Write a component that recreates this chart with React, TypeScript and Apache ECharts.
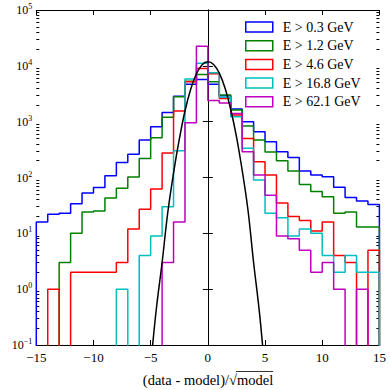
import React, { useEffect, useRef } from "react";
import * as echarts from "echarts";

// ---------- data ----------
const binEdges = [-15, -14, -13, -12, -11, -10, -9, -8, -7, -6, -5, -4, -3, -2, -1, 0, 1, 2, 3, 4, 5, 6, 7, 8, 9, 10, 11, 12, 13, 14, 15];

const seriesNames = ["E > 0.3 GeV", "E > 1.2 GeV", "E > 4.6 GeV", "E > 16.8 GeV", "E > 62.1 GeV"];
const seriesColors = ["#0000ff", "#008000", "#ff0000", "#00bfbf", "#bf00bf"];

const countsE03 = [16, 22, 23, 34, 53, 66, 107, 185, 260, 470, 813, 1460, 2850, 4700, 5700, 4700, 2900, 1690, 1000, 660, 438, 290, 228, 131, 111, 103, 67, 44, 38, 33];
const countsE12 = [0, 0, 3, 10, 24, 25, 43, 64, 102, 220, 516, 1200, 2800, 5300, 7000, 5200, 3000, 1620, 840, 470, 287, 200, 131, 75, 56, 45, 23, 24, 13, 13];
const countsE46 = [0, 1, 0, 2, 2, 2, 2, 3, 12, 27, 62, 275, 1550, 5200, 9000, 7200, 2600, 1320, 500, 192, 111, 35, 20, 17, 11, 16, 4, 3, 0, 5];
const countsE168 = [0, 0, 0, 0, 0, 0, 0, 1, 0, 4, 9, 30, 300, 5800, 11100, 7500, 2750, 1230, 333, 90, 23, 19, 9, 12, 10, 4, 2, 4, 2, 2];
const countsE621 = [0, 0, 0, 0, 0, 0, 0, 0, 0, 0, 0, 3, 16, 960, 22500, 2400, 2150, 1400, 290, 111, 48, 9, 8, 5, 2, 3, 1, 0, 1, 0];

const modelX = [-4.9, -4.5, -4, -3.5, -3, -2.5, -2, -1.5, -1, -0.5, 0, 0.5, 1, 1.5, 2, 2.5, 3, 3.5, 4, 4.5, 4.85];
const modelY = [0.07, 0.45, 3.0, 24, 120, 480, 1550, 3800, 7200, 10500, 11800, 10600, 7400, 4000, 1650, 540, 135, 27, 3.0, 0.4, 0.07];

const yMajor = [0.1, 1, 10, 100, 1000, 10000, 100000];
const yMinorMultipliers = [2, 3, 4, 5, 6, 7, 8, 9];

const axisTitle = "(data - model)/\u221Amodel";
const FONT = "Liberation Serif";

function stepData(vals: number[]) {
  const floor = 1e-3;
  const pts: number[][] = [[binEdges[0], floor]];
  vals.forEach((v, i) => pts.push([binEdges[i], v > 0 ? v : floor]));
  pts.push([binEdges[binEdges.length - 1], floor]);
  return pts;
}

function minus(s: string) {
  return s.replace("-", "\u2212");
}

export default function App() {
  const ref = useRef<HTMLDivElement>(null);
  useEffect(() => {
    if (!ref.current) return;
    const chart = echarts.init(ref.current, null, { renderer: "svg" });

    const yMinor: number[] = [];
    for (let k = 0; k < yMajor.length - 1; k++) {
      yMinorMultipliers.forEach((m) => yMinor.push(+(m * yMajor[k]).toPrecision(3)));
    }

    const allCounts = [countsE03, countsE12, countsE46, countsE168, countsE621];

    // measure axis title for the overline
    const cv = document.createElement("canvas");
    const ctx = cv.getContext("2d")!;
    const fs = 14.5;
    ctx.font = `${fs}px "${FONT}"`;
    const wFull = ctx.measureText(axisTitle).width;
    const wModel = ctx.measureText("model").width;
    const cx = 208;
    const titleY = 380;
    const right = cx + wFull / 2;
    const olStart = right - wModel - 1;

    const yBase = {
      type: "log",
      logBase: 10,
      min: 0.1,
      max: 100000,
      splitLine: { show: false },
      axisLine: { show: true, lineStyle: { color: "#000", width: 1 } },
    };

    const legendFs = 14;

    const option: any = {
      animation: false,
      backgroundColor: "#fff",
      grid: { left: 36.3, right: 10.6, top: 10, bottom: 45 },
      legend: {
        orient: "vertical",
        left: 245,
        top: 20,
        padding: 0,
        itemWidth: 27,
        itemHeight: 10,
        itemGap: 4.7,
        icon: "rect",
        textStyle: { fontFamily: FONT, fontSize: legendFs, color: "#000", padding: [0, 0, 0, 5] },
        data: seriesNames.map((n, i) => ({
          name: n,
          itemStyle: { color: "rgba(0,0,0,0)", borderColor: seriesColors[i], borderWidth: 1.5 },
        })),
      },
      xAxis: [
        {
          type: "value",
          min: -15,
          max: 15,
          interval: 5,
          position: "bottom",
          splitLine: { show: false },
          axisLine: { show: true, onZero: false, lineStyle: { color: "#000", width: 1 } },
          axisTick: { inside: true, length: 5, lineStyle: { color: "#000" } },
          axisLabel: {
            margin: 6,
            fontFamily: FONT,
            fontSize: 13,
            color: "#000",
            formatter: (v: number) => minus(String(v)),
          },
        },
        {
          type: "value",
          min: -15,
          max: 15,
          interval: 5,
          position: "top",
          splitLine: { show: false },
          axisLine: { show: true, onZero: false, lineStyle: { color: "#000", width: 1 } },
          axisTick: { inside: true, length: 5, lineStyle: { color: "#000" } },
          axisLabel: { show: false },
        },
      ],
      yAxis: [
        {
          ...yBase,
          position: "left",
          axisTick: { inside: true, length: 5, lineStyle: { color: "#000" }, customValues: yMajor },
          axisLabel: {
            customValues: yMajor,
            margin: 4,
            formatter: (v: number) => {
              const e = Math.round(Math.log10(v));
              return `{b|10}{s|${minus(String(e))}}`;
            },
            rich: {
              b: { fontFamily: FONT, fontSize: 12, color: "#000" },
              s: { fontFamily: FONT, fontSize: 8, color: "#000", padding: [0, 0, 7, 0] },
            },
          },
        },
        {
          ...yBase,
          position: "right",
          axisTick: { inside: true, length: 5, lineStyle: { color: "#000" }, customValues: yMajor },
          axisLabel: { show: false },
        },
        {
          ...yBase,
          position: "left",
          axisLine: { show: false },
          axisTick: { inside: true, length: 3, lineStyle: { color: "#000" }, customValues: yMinor },
          axisLabel: { show: false },
        },
        {
          ...yBase,
          position: "right",
          axisLine: { show: false },
          axisTick: { inside: true, length: 3, lineStyle: { color: "#000" }, customValues: yMinor },
          axisLabel: { show: false },
        },
      ],
      series: [
        ...allCounts.map((vals, i) => ({
          name: seriesNames[i],
          type: "line",
          step: "end",
          xAxisIndex: 0,
          yAxisIndex: 0,
          symbol: "none",
          clip: true,
          color: seriesColors[i],
          lineStyle: { color: seriesColors[i], width: 1.5 },
          data: stepData(vals),
          z: 2 + i,
        })),
        {
          name: "model",
          type: "line",
          xAxisIndex: 0,
          yAxisIndex: 0,
          symbol: "none",
          smooth: 0.4,
          clip: true,
          lineStyle: { color: "#000", width: 1.5 },
          data: modelX.map((x, i) => [x, modelY[i]]),
          z: 10,
        },
      ],
      graphic: [
        {
          type: "text",
          x: cx,
          y: titleY,
          style: {
            text: axisTitle,
            fontFamily: FONT,
            fontSize: fs,
            fill: "#000",
            textAlign: "center",
            textVerticalAlign: "middle",
          },
        },
        {
          type: "line",
          shape: { x1: olStart, y1: titleY - 8.5, x2: right, y2: titleY - 8.5 },
          style: { stroke: "#000", lineWidth: 0.8 },
        },
      ],
    };
    chart.setOption(option);
    return () => chart.dispose();
  }, []);
  return <div ref={ref} style={{ width: 390, height: 390, position: "absolute", left: 0, top: 0 }} />;
}
